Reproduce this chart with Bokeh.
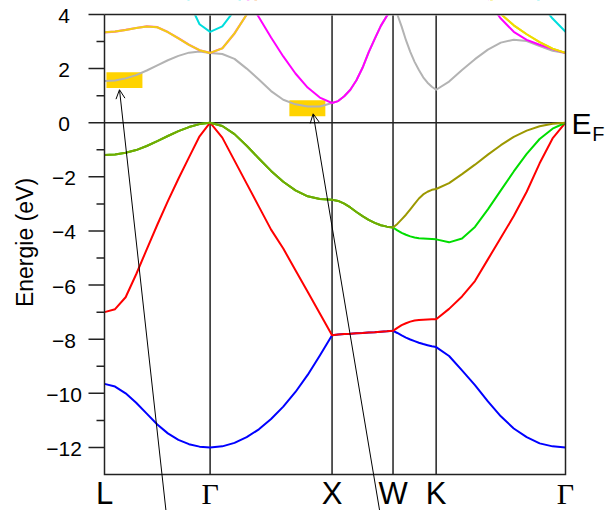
import math
from bokeh.plotting import figure
from bokeh.models import Range1d, Arrow, OpenHead
from bokeh.core.properties import value
from bokeh.embed import file_html
from bokeh.resources import INLINE

# ---- data -------------------------------------------------------------
kpoint_labels = ["L", "Γ", "X", "W", "K", "Γ"]
kpoint_pos = [0.0, 0.8660, 1.8660, 2.3660, 2.7196, 3.7803]
t_frac = [0.0, 0.1, 0.2, 0.3, 0.4, 0.5, 0.6, 0.7, 0.8, 0.9, 1.0]
N = None
NONE = [N] * 11

# each band: 5 path segments (L-Γ, Γ-X, X-W, W-K, K-Γ), energies in eV
band_blue = [
    [-9.65, -9.75, -10.0, -10.35, -10.75, -11.15, -11.48, -11.72, -11.88, -11.97, -12.0],
    [-12.0, -11.96, -11.83, -11.62, -11.33, -10.95, -10.49, -9.95, -9.32, -8.6, -7.85],
    [-7.85, -7.83, -7.81, -7.8, -7.78, -7.77, -7.75, -7.74, -7.72, -7.71, -7.69],
    [-7.69, -7.77, -7.86, -7.94, -8.01, -8.07, -8.13, -8.18, -8.22, -8.26, -8.29],
    [-8.29, -8.62, -9.15, -9.7, -10.3, -10.85, -11.3, -11.62, -11.85, -11.96, -12.0],
]
band_red = [
    [-7.0, -6.89, -6.45, -5.6, -4.68, -3.77, -2.9, -2.07, -1.28, -0.5, 0.0],
    [0.0, -0.55, -1.4, -2.25, -3.1, -3.95, -4.65, -5.45, -6.25, -7.05, -7.85],
    [-7.85, -7.83, -7.81, -7.8, -7.78, -7.77, -7.75, -7.74, -7.72, -7.71, -7.69],
    [-7.69, -7.58, -7.48, -7.41, -7.35, -7.31, -7.29, -7.28, -7.27, -7.26, -7.26],
    [-7.26, -6.88, -6.42, -5.85, -5.05, -4.25, -3.45, -2.55, -1.5, -0.58, 0.0],
]
band_green = [
    [-1.19, -1.17, -1.11, -1.01, -0.86, -0.68, -0.49, -0.31, -0.16, -0.05, 0.0],
    [0.0, -0.12, -0.42, -0.85, -1.32, -1.78, -2.18, -2.5, -2.72, -2.82, -2.85],
    [-2.85, -2.89, -2.99, -3.13, -3.3, -3.45, -3.59, -3.7, -3.79, -3.84, -3.87],
    [-3.87, -3.98, -4.07, -4.14, -4.2, -4.24, -4.27, -4.28, -4.29, -4.3, -4.31],
    [-4.31, -4.42, -4.28, -3.85, -3.2, -2.5, -1.8, -1.15, -0.6, -0.22, 0.0],
]
band_olive = [
    [-1.19, -1.17, -1.11, -1.01, -0.86, -0.68, -0.49, -0.31, -0.16, -0.05, 0.0],
    [0.0, -0.12, -0.42, -0.85, -1.32, -1.78, -2.18, -2.5, -2.72, -2.82, -2.85],
    [-2.85, -2.89, -2.99, -3.13, -3.3, -3.45, -3.59, -3.7, -3.79, -3.84, -3.87],
    [-3.87, -3.74, -3.57, -3.4, -3.2, -3.0, -2.8, -2.65, -2.55, -2.48, -2.45],
    [-2.45, -2.23, -1.9, -1.55, -1.18, -0.83, -0.52, -0.29, -0.13, -0.04, 0.0],
]
band_gray = [
    [1.54, 1.56, 1.64, 1.76, 1.93, 2.12, 2.31, 2.47, 2.59, 2.63, 2.58],
    [2.58, 2.54, 2.36, 2.0, 1.6, 1.17, 0.85, 0.68, 0.6, 0.6, 0.73],
    [0.73, 0.8, 0.98, 1.22, 1.57, 2.03, 2.6, 3.1, 3.58, 3.95, 4.3],
    [4.3, 4.0, 3.55, 3.05, 2.62, 2.25, 1.95, 1.68, 1.48, 1.33, 1.22],
    [1.22, 1.52, 1.95, 2.35, 2.7, 2.96, 3.07, 3.02, 2.83, 2.66, 2.58],
]
band_magenta = [
    NONE,
    [N, N, 5.4, 4.6, 3.9, 3.15, 2.45, 1.82, 1.3, 0.93, 0.73],
    [0.73, 0.8, 0.98, 1.22, 1.57, 2.03, 2.6, 3.1, 3.58, 3.95, 4.3],
    NONE,
    [N, N, N, N, 4.5, 3.85, 3.36, 3.06, 2.88, 2.72, 2.58],
]
band_yellow = [
    [3.34, 3.37, 3.43, 3.5, 3.56, 3.53, 3.35, 3.12, 2.88, 2.68, 2.58],
    [2.58, 2.75, 3.3, 4.0, 4.7, N, N, N, N, N, N],
    NONE,
    NONE,
    [N, N, N, 5.4, 4.7, 4.02, 3.6, 3.27, 2.98, 2.74, 2.58],
]
band_cyan = [
    [N, N, N, N, N, N, N, 5.8, 4.46, 3.64, 3.36],
    [3.36, 3.56, 4.15, 5.0, N, N, N, N, N, N, N],
    NONE,
    NONE,
    [N, N, N, N, N, N, N, 5.2, 4.45, 3.85, 3.36],
]

# highlighted gap-edge boxes
box_k0 = [0.016, 1.516]
box_k1 = [0.311, 1.811]
box_e0 = [1.28, 0.24]
box_e1 = [1.87, 0.83]

# arrows: tip (k, E) of each arrow and the k where it leaves the bottom edge
arrow_tip_k = [0.123, 1.711]
arrow_tip_e = [1.22, 0.33]
arrow_tail_k = [0.504, 2.256]

e_min, e_max = -13, 4
y_ticks = [-12, -10, -8, -6, -4, -2, 0, 2, 4]
y_tick_labels = ["−12", "−10", "−8", "−6", "−4", "−2", "0", "2", "4"]
y_minor_ticks = [-11, -9, -7, -5, -3, -1, 1, 3]
y_title = "Energie (eV)"
fermi_main, fermi_sub = "E", "F"

# ---- layout (canvas pixels) -------------------------------------------
W, H = 613, 510
PX_L, PX_R, PY_T, PY_B = 104, 565, 14, 474
SX = (PX_R - PX_L) / (kpoint_pos[-1] - kpoint_pos[0])
SY = (PY_B - PY_T) / (e_max - e_min)

def kx(px):
    return kpoint_pos[0] + (px - PX_L) / SX

def ey(py):
    return e_max - (py - PY_T) / SY

def path(band, segs=(0, 1, 2, 3, 4)):
    xs, ys = [], []
    prev = None
    for i in segs:
        if prev is not None and i != prev + 1:
            xs.append(float("nan")); ys.append(float("nan"))
        k0, k1 = kpoint_pos[i], kpoint_pos[i + 1]
        for t, v in zip(t_frac, band[i]):
            xs.append(k0 + t * (k1 - k0))
            ys.append(float("nan") if v is None else v)
        prev = i
    return xs, ys

SANS = "Liberation Sans"
SERIF = "Liberation Serif"
FRAME = "#222222"

p = figure(width=W, height=H, x_range=Range1d(kx(0), kx(W)), y_range=Range1d(ey(H), ey(0)),
           output_backend="svg", toolbar_location=None, x_axis_type=None, y_axis_type=None,
           min_border=0)
p.grid.visible = False
p.outline_line_color = None
p.background_fill_color = "white"
p.border_fill_color = "white"

k_lo, k_hi = kpoint_pos[0], kpoint_pos[-1]

# symmetry lines and Fermi level (under the bands)
inner_k = kpoint_pos[1:-1]
p.segment(x0=inner_k, x1=inner_k, y0=[e_min] * len(inner_k), y1=[e_max] * len(inner_k),
          line_color=FRAME, line_width=1.5)
p.segment(x0=[k_lo], x1=[k_hi], y0=[0], y1=[0], line_color=FRAME, line_width=1.5)

# highlight boxes
p.quad(left=box_k0, right=box_k1, bottom=box_e0, top=box_e1, fill_color="#ffd300", line_color=None)

LW = 2
def band_line(band, color, segs=(0, 1, 2, 3, 4), alpha=1.0, lw=LW):
    xs, ys = path(band, segs)
    p.line(xs, ys, line_color=color, line_width=lw, line_alpha=alpha, line_join="round")

band_line(band_blue, "#0000ff")
band_line(band_red, "#ff0000")
band_line(band_green, "#00dd00")
band_line(band_olive, "#9c9800")
band_line(band_green, "#00dd00", segs=(0, 1, 2), alpha=0.25)
band_line(band_gray, "#b3b3b3")
band_line(band_magenta, "#ff00ff")
band_line(band_yellow, "#ff55cc", segs=(0, 1), lw=2.2)
band_line(band_yellow, "#eedc00", alpha=0.9)
band_line(band_yellow, "#eedc00", segs=(4,))
band_line(band_cyan, "#00dddd")

# mask everything above the top of the plot box
p.quad(left=[k_lo - 0.01], right=[k_hi + 0.01], bottom=[e_max], top=[ey(-40)],
       fill_color="white", line_color="white", line_width=2)

# plot box
p.line([k_lo, k_hi, k_hi, k_lo, k_lo], [e_max, e_max, e_min, e_min, e_max],
       line_color=FRAME, line_width=1.5, line_join="miter")

# y ticks
maj_x0 = kx(PX_L - 16)
min_x0 = kx(PX_L - 8)
p.segment(x0=[maj_x0] * len(y_ticks), x1=[k_lo] * len(y_ticks), y0=y_ticks, y1=y_ticks,
          line_color=FRAME, line_width=1.5)
p.segment(x0=[min_x0] * len(y_minor_ticks), x1=[k_lo] * len(y_minor_ticks), y0=y_minor_ticks,
          y1=y_minor_ticks, line_color=FRAME, line_width=1.5)

# y tick labels (centred, as in the original)
p.text(x=[kx(63.5)] * len(y_ticks), y=y_ticks, text=y_tick_labels, y_offset=1.5,
       text_font=value(SANS), text_font_size="21px", text_color="black",
       text_align="center", text_baseline="middle")

# y title
p.text(x=[kx(24.5)], y=[ey(242)], text=[y_title], angle=math.pi / 2,
       text_font=value(SANS), text_font_size="23px", text_color="black",
       text_align="center", text_baseline="middle")

# k-point labels
lat = [(k, s) for k, s in zip(kpoint_pos, kpoint_labels) if s != "Γ"]
gam = [(k, s) for k, s in zip(kpoint_pos, kpoint_labels) if s == "Γ"]
p.text(x=[k for k, _ in lat], y=[ey(492.7)] * len(lat), text=[s for _, s in lat],
       text_font=value(SANS), text_font_size="31px", text_color="black",
       text_align="center", text_baseline="middle")
p.text(x=[k for k, _ in gam], y=[ey(493)] * len(gam), text=[s for _, s in gam],
       text_font=value(SERIF), text_font_size="30px", text_color="black",
       text_align="center", text_baseline="middle")

# E_F label
p.text(x=[kx(571)], y=[ey(122.5)], text=[fermi_main], text_font=value(SANS),
       text_font_size="30px", text_color="black", text_align="left", text_baseline="middle")
p.text(x=[kx(591.8)], y=[ey(133.8)], text=[fermi_sub], text_font=value(SANS),
       text_font_size="20px", text_color="black", text_align="left", text_baseline="middle")

# arrows from below the axis to the gap edges
for tk, hk, he in zip(arrow_tail_k, arrow_tip_k, arrow_tip_e):
    p.add_layout(Arrow(x_start=tk, y_start=ey(H), x_end=hk, y_end=he, line_color="black",
                       line_width=1, end=OpenHead(size=9, line_width=1, line_color="black")))

open("out.html", "w").write(file_html(p, INLINE))
